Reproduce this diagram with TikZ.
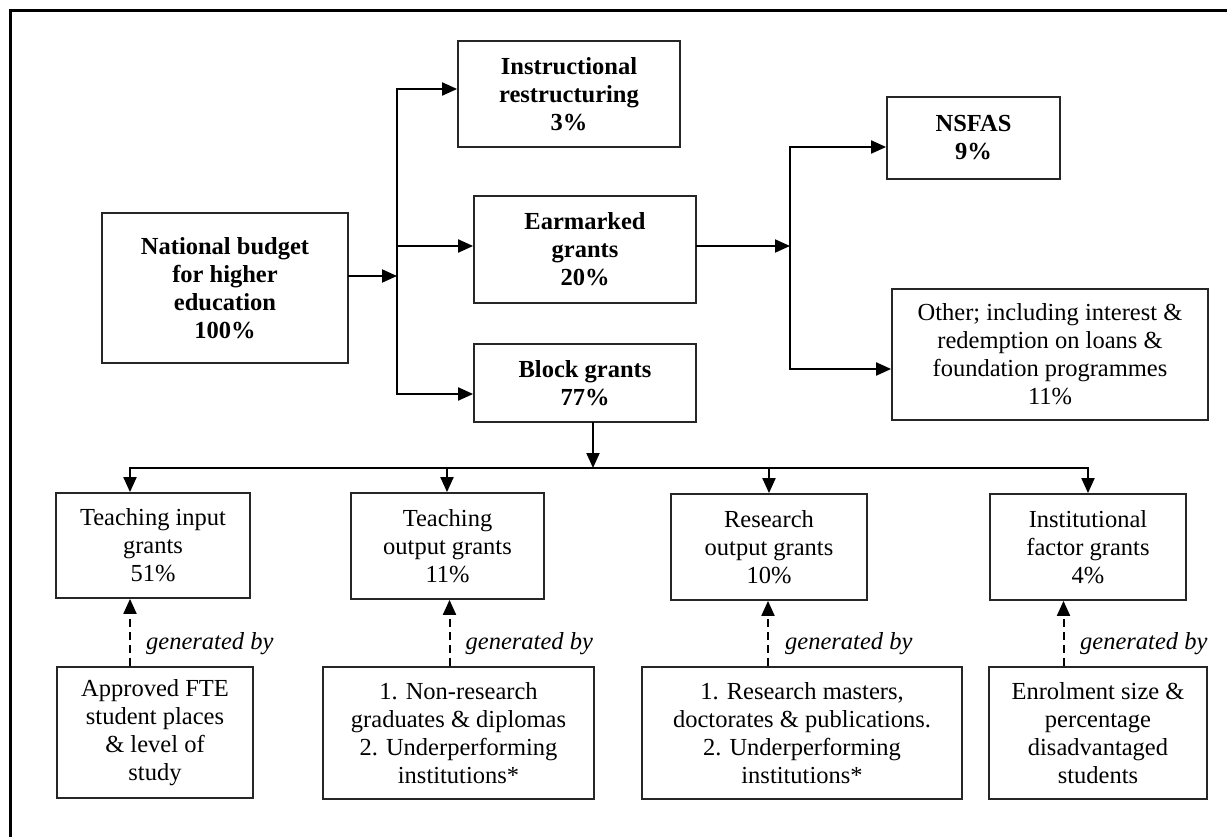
\documentclass[tikz,border=0pt]{standalone}
\usepackage{fontspec}
\setmainfont{Liberation Serif}
\usetikzlibrary{arrows.meta}
\begin{document}
\begin{tikzpicture}[x=1pt,y=-1pt,
  box/.style={draw=black!85, line width=1.8pt, align=center, inner sep=0pt,
    font=\fontsize{24.5}{28}\selectfont},
  hbox/.style={box, font=\fontsize{24.5}{28}\selectfont\bfseries},
  link/.style={line width=2pt, draw=black, line cap=rect},
  arr/.style={link, -{Triangle[length=15pt,width=13pt]}},
  gen/.style={line width=2pt, draw=black, dash pattern=on 8pt off 5pt,
    -{Triangle[length=15pt,width=13pt]}},
  genlabel/.style={anchor=west, inner sep=0pt,
    font=\fontsize{24.5}{28}\selectfont\itshape}
]
\useasboundingbox (0,0) rectangle (1227,837);

% page frame
\draw[line width=3pt] (10.5,837) -- (10.5,10.7) -- (1227,10.7);

% top level
\node[hbox, minimum width=246pt, minimum height=150pt] (nat) at (225,288)
  {National budget\\for higher\\education\\100\%};
\node[hbox, minimum width=222pt, minimum height=106pt] (instr) at (569,94)
  {Instructional\\restructuring\\3\%};
\node[hbox, minimum width=222pt, minimum height=107pt] (ear) at (585,249.5)
  {Earmarked\\grants\\20\%};
\node[hbox, minimum width=222pt, minimum height=78pt] (block) at (585,383)
  {Block grants\\77\%};
\node[hbox, minimum width=173pt, minimum height=82pt] (nsfas) at (973.5,138)
  {NSFAS\\9\%};
\node[box, minimum width=316pt, minimum height=131pt] (other) at (1050,354.5)
  {Other; including interest \&\\redemption on loans \&\\foundation programmes\\11\%};

% block grant components
\node[box, minimum width=194pt, minimum height=105pt] (tin) at (153,545.5)
  {Teaching input\\grants\\51\%};
\node[box, minimum width=193pt, minimum height=106pt] (tout) at (447.5,546)
  {Teaching\\output grants\\11\%};
\node[box, minimum width=196pt, minimum height=106pt] (rout) at (769,547)
  {Research\\output grants\\10\%};
\node[box, minimum width=196pt, minimum height=106pt] (ifac) at (1088,547)
  {Institutional\\factor grants\\4\%};

% drivers
\node[box, minimum width=196pt, minimum height=131pt] (fte) at (155,732.5)
  {Approved FTE\\student places\\\& level of\\study};
\node[box, minimum width=271pt, minimum height=132pt] (nonres) at (458.5,733)
  {1. Non-research\\graduates \& diplomas\\2. Underperforming\\institutions*};
\node[box, minimum width=320pt, minimum height=132pt] (resm) at (802,733)
  {1. Research masters,\\doctorates \& publications.\\2. Underperforming\\institutions*};
\node[box, minimum width=218pt, minimum height=132pt] (enrol) at (1098,733)
  {Enrolment size \&\\percentage\\disadvantaged\\students};

% split of the national budget
\coordinate (jl) at (397,276);
\coordinate (jlt) at (397,89);
\coordinate (jle) at (397,246);
\coordinate (jlb) at (397,394);
\draw[arr] (nat.east |- jl) -- (jl);
\draw[link] (jlt) -- (jlb);
\draw[arr] (jlt) -- (instr.west |- jlt);
\draw[arr] (jle) -- (ear.west |- jle);
\draw[arr] (jlb) -- (block.west |- jlb);

% split of earmarked grants
\coordinate (jr) at (790,246);
\coordinate (jrt) at (790,147);
\coordinate (jrb) at (790,369);
\draw[arr] (ear.east |- jr) -- (jr);
\draw[link] (jrt) -- (jrb);
\draw[arr] (jrt) -- (nsfas.west |- jrt);
\draw[arr] (jrb) -- (other.west |- jrb);

% split of block grants
\coordinate (bus) at (593,468);
\coordinate (b1) at (130,468);
\coordinate (b2) at (447,468);
\coordinate (b3) at (769,468);
\coordinate (b4) at (1088,468);
\draw[arr] (block.south -| bus) -- (bus);
\draw[link] (b1) -- (b4);
\draw[arr] (b1) -- (tin.north -| b1);
\draw[arr] (b2) -- (tout.north -| b2);
\draw[arr] (b3) -- (rout.north -| b3);
\draw[arr] (b4) -- (ifac.north -| b4);

% generating factors
\coordinate (d1) at (130,644);
\coordinate (d2) at (449.5,644);
\coordinate (d3) at (768,644);
\coordinate (d4) at (1063.5,644);
\draw[gen] (fte.north -| d1) -- (tin.south -| d1);
\draw[gen] (nonres.north -| d2) -- (tout.south -| d2);
\draw[gen] (resm.north -| d3) -- (rout.south -| d3);
\draw[gen] (enrol.north -| d4) -- (ifac.south -| d4);
\node[genlabel] (g1) at (146,644) {generated by};
\node[genlabel] (g2) at (465.5,644) {generated by};
\node[genlabel] (g3) at (785,644) {generated by};
\node[genlabel] (g4) at (1080,644) {generated by};
\end{tikzpicture}
\end{document}
